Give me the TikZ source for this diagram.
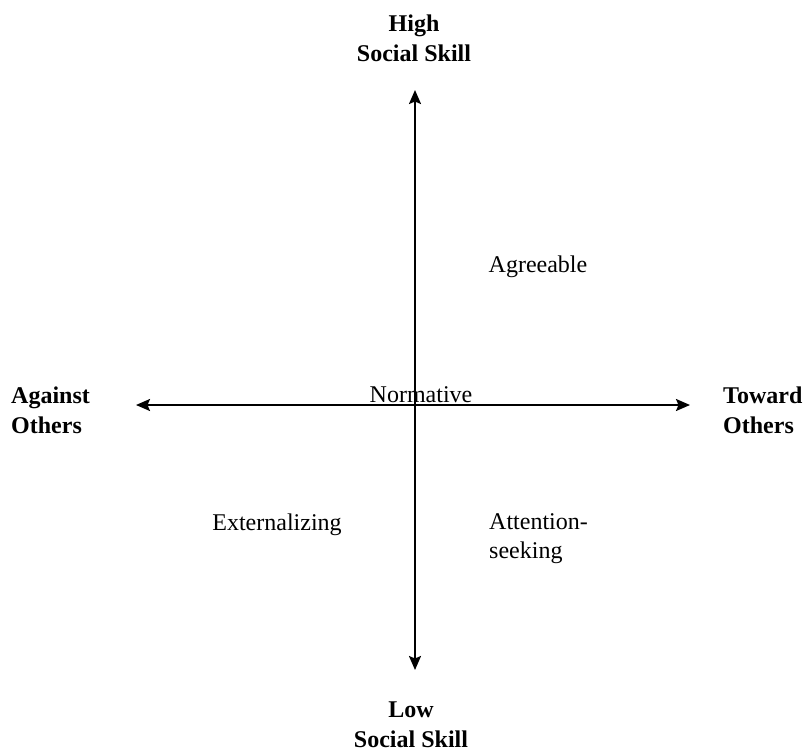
\documentclass[tikz,border=0pt]{standalone}
\usepackage{fontspec}
\setmainfont{Liberation Serif}
\usetikzlibrary{arrows.meta}
\begin{document}
\begin{tikzpicture}[x=1pt,y=-1pt,
  axis/.style={line width=2pt,{Stealth[length=14pt,width=12pt,inset=2.5pt]}-{Stealth[length=14pt,width=12pt,inset=2.5pt]}},
  lbl/.style={font=\fontsize{24}{29}\selectfont,inner sep=0pt,align=center},
  pole/.style={font=\fontsize{24}{30}\selectfont\bfseries,inner sep=0pt,align=center}]
\useasboundingbox (0,0) rectangle (804,753);
\coordinate (top) at (415,90);
\coordinate (bot) at (415,670);
\coordinate (lft) at (136,405);
\coordinate (rgt) at (690,405);
\draw[axis] (bot) -- (top);
\draw[axis] (lft) -- (rgt);
\node[pole] (high) at (414,38) {High\\Social Skill};
\node[pole] (low) at (411,725) {Low\\Social Skill};
\node[pole,align=left,anchor=west] (against) at (11,410) {Against\\Others};
\node[pole,align=left,anchor=west] (toward) at (723,410) {Toward\\Others};
\node[lbl] (agree) at (538,267) {Agreeable};
\node[lbl] (norm) at (421,395) {Normative};
\node[lbl] (ext) at (277,525) {Externalizing};
\node[lbl,align=left,anchor=west] (att) at (489,539) {Attention-\\seeking};
\end{tikzpicture}
\end{document}
